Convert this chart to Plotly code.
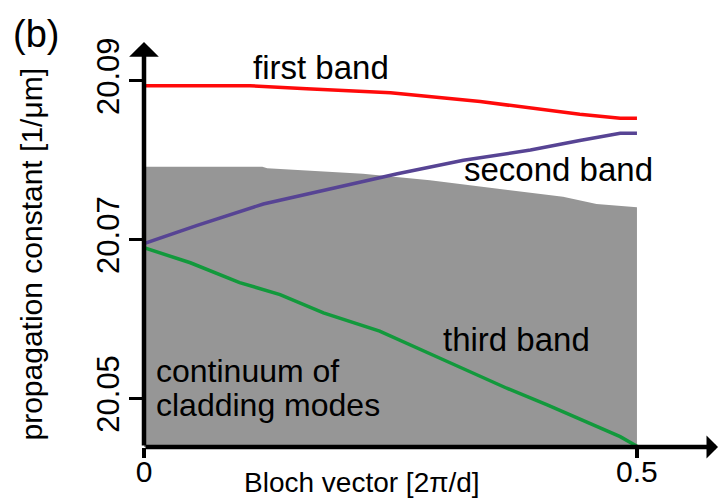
import plotly.graph_objects as go

# Band structure of the waveguide array: propagation constant vs. Bloch vector
k_first = [0.0, 0.1075, 0.165, 0.25, 0.341, 0.409, 0.442, 0.483, 0.5]
beta_first = [20.0894, 20.0894, 20.0890, 20.0885, 20.0874, 20.0863, 20.0858, 20.0853, 20.0853]

k_second = [0.0, 0.054, 0.121, 0.189, 0.257, 0.324, 0.392, 0.442, 0.483, 0.5]
beta_second = [20.0695, 20.0718, 20.0745, 20.0764, 20.0783, 20.0800, 20.0813, 20.0825, 20.0834, 20.0834]

k_third = [0.0, 0.047, 0.097, 0.138, 0.182, 0.239, 0.307, 0.368, 0.409, 0.455, 0.483, 0.5]
beta_third = [20.0690, 20.0671, 20.0646, 20.0631, 20.0608, 20.0585, 20.0547, 20.0513, 20.0492,
              20.0467, 20.0452, 20.0440]

# upper edge of the continuum of cladding modes
k_cont = [0.0, 0.12, 0.125, 0.222, 0.290, 0.358, 0.425, 0.459, 0.5]
beta_cont = [20.0792, 20.0792, 20.0790, 20.0783, 20.0775, 20.0764, 20.0754, 20.0745, 20.0741]

y_tick_vals = [20.05, 20.07, 20.09]
y_tick_text = ["20.05", "20.07", "20.09"]
x_tick_vals = [0, 0.5]
x_tick_text = ["0", "0.5"]

FONT = "Liberation Sans, Arial, Helvetica, sans-serif"
W, H = 720, 500
L, R, T, B = 144, 2, 42, 53
X_MAX = 0.5822
Y_MIN, Y_MAX = 20.0439, 20.0949


def paper_x(px):
    return (px - L) / (W - L - R)


def paper_y(py):
    return (H - B - py) / (H - B - T)


fig = go.Figure()
fig.add_trace(go.Scatter(x=k_cont, y=beta_cont, mode="lines", fill="tozeroy",
                         fillcolor="#969696", line=dict(width=0, color="#969696"),
                         hoverinfo="skip"))
fig.add_trace(go.Scatter(x=k_third, y=beta_third, mode="lines",
                         line=dict(color="#12993c", width=3.5)))
fig.add_trace(go.Scatter(x=k_second, y=beta_second, mode="lines",
                         line=dict(color="#574494", width=3.5)))
fig.add_trace(go.Scatter(x=k_first, y=beta_first, mode="lines",
                         line=dict(color="#ff0a0a", width=3.5)))


def label(text, px, py, size=33, xanchor="left", angle=0):
    return dict(text=text, x=paper_x(px), y=paper_y(py), xref="paper", yref="paper",
                xanchor=xanchor, yanchor="middle", showarrow=False, textangle=angle,
                font=dict(size=size, color="black", family=FONT))


annotations = [
    label("first band", 251, 67),
    label("second band", 462, 169),
    label("third band", 441, 339),
    label("continuum of", 154, 371, size=32),
    label("cladding modes", 154, 405, size=32),
    label("(b)", 11, 34, size=38),
    label("Bloch vector [2π/d]", 362, 482, size=28, xanchor="center"),
    label("propagation constant [1/μm]", 31, 254.5, size=30, xanchor="center", angle=-90),
    # axis lines with arrowheads
    dict(x=0, y=Y_MAX, ax=0, ay=Y_MIN, xref="x", yref="y", axref="x", ayref="y",
         text="", showarrow=True, arrowhead=1, arrowsize=1.1, arrowwidth=4.5,
         arrowcolor="black", standoff=0, startstandoff=0),
    dict(x=X_MAX, y=Y_MIN, ax=0, ay=Y_MIN, xref="x", yref="y", axref="x", ayref="y",
         text="", showarrow=True, arrowhead=1, arrowsize=0.85, arrowwidth=4.5,
         arrowcolor="black", standoff=0, startstandoff=0),
]

fig.update_layout(
    width=W, height=H,
    margin=dict(l=L, r=R, t=T, b=B),
    paper_bgcolor="white", plot_bgcolor="white",
    showlegend=False,
    font=dict(family=FONT, size=28, color="black"),
    annotations=annotations,
    xaxis=dict(range=[0, X_MAX], showgrid=False, zeroline=False, showline=False,
               tickmode="array", tickvals=x_tick_vals, ticktext=x_tick_text,
               ticks="outside", ticklen=10, tickwidth=4, tickcolor="black",
               ticklabelstandoff=-12,
               tickfont=dict(size=30, family=FONT, color="black")),
    yaxis=dict(range=[Y_MIN, Y_MAX], showgrid=False, zeroline=False, showline=False,
               tickmode="array", tickvals=y_tick_vals, ticktext=y_tick_text,
               ticks="outside", ticklen=14, tickwidth=3, tickcolor="black",
               tickangle=-90, ticklabelstandoff=-2,
               tickfont=dict(size=31, family=FONT, color="black")),
)

fig.write_html("out.html")
